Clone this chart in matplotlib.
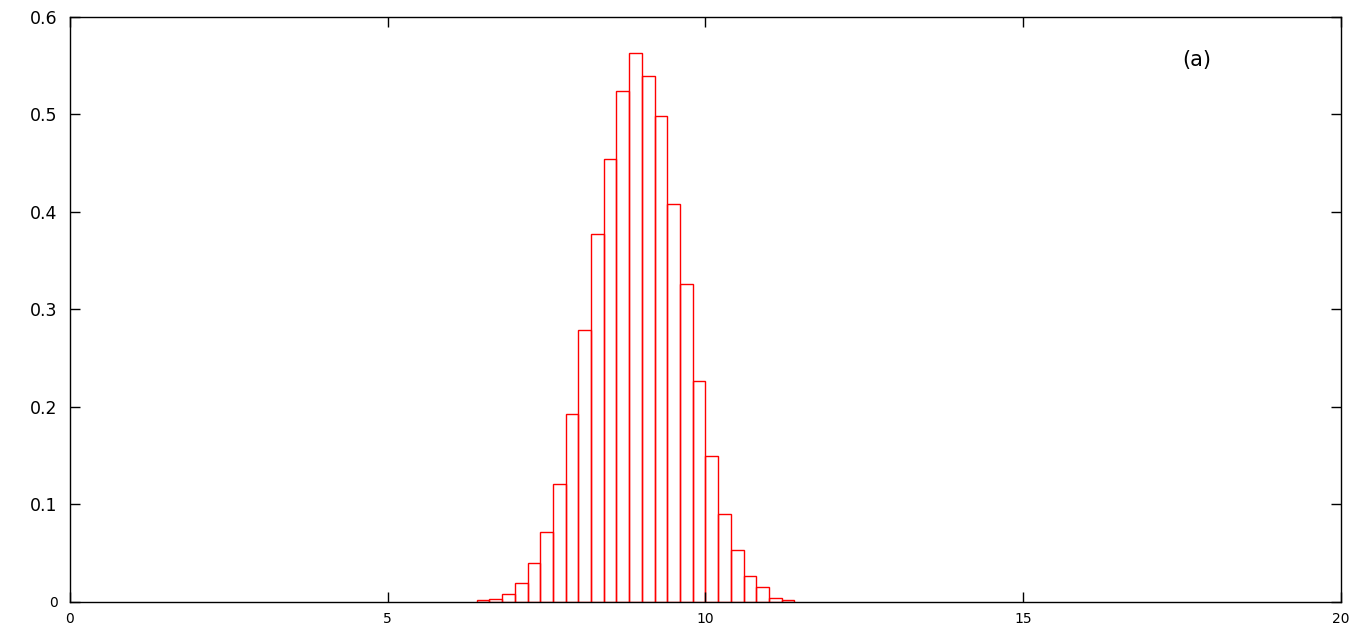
import numpy as np
import matplotlib.pyplot as plt

# histogram bins (left edges) and heights
bin_left = [6.4, 6.6, 6.8, 7.0, 7.2, 7.4, 7.6, 7.8, 8.0, 8.2, 8.4, 8.6, 8.8,
            9.0, 9.2, 9.4, 9.6, 9.8, 10.0, 10.2, 10.4, 10.6, 10.8, 11.0, 11.2]
heights = [0.002, 0.003, 0.008, 0.019, 0.040, 0.072, 0.121, 0.193, 0.279,
           0.377, 0.454, 0.524, 0.563, 0.539, 0.498, 0.408, 0.326, 0.227,
           0.150, 0.090, 0.053, 0.027, 0.015, 0.004, 0.002]
bin_width = 0.2

x_ticks = [0, 5, 10, 15, 20]
y_ticks = [0, 0.1, 0.2, 0.3, 0.4, 0.5, 0.6]
y_labels = ["0", "0.1", "0.2", "0.3", "0.4", "0.5", "0.6"]

fig = plt.figure(figsize=(13.66, 6.36), dpi=100)
ax = fig.add_axes([0.0512, 0.0535, 0.9305, 0.9198])

ax.bar(bin_left, heights, width=bin_width, align="edge", fill=False,
       edgecolor="red", linewidth=1.0)

ax.set_xlim(0, 20)
ax.set_ylim(0, 0.6)
ax.set_xticks(x_ticks)
ax.set_xticklabels([str(t) for t in x_ticks], fontsize=10)
ax.set_yticks(y_ticks)
ax.set_yticklabels(y_labels, fontsize=12.5)
ax.get_yticklabels()[0].set_fontsize(10)
ax.tick_params(direction="in", length=7, width=1, top=True, right=True)
ax.tick_params(axis="x", pad=7)
ax.tick_params(axis="y", pad=9)
for s in ax.spines.values():
    s.set_linewidth(1.0)

ax.text(17.73, 0.556, "(a)", fontsize=15, ha="center", va="center")

fig.savefig("out.png", dpi=100)
